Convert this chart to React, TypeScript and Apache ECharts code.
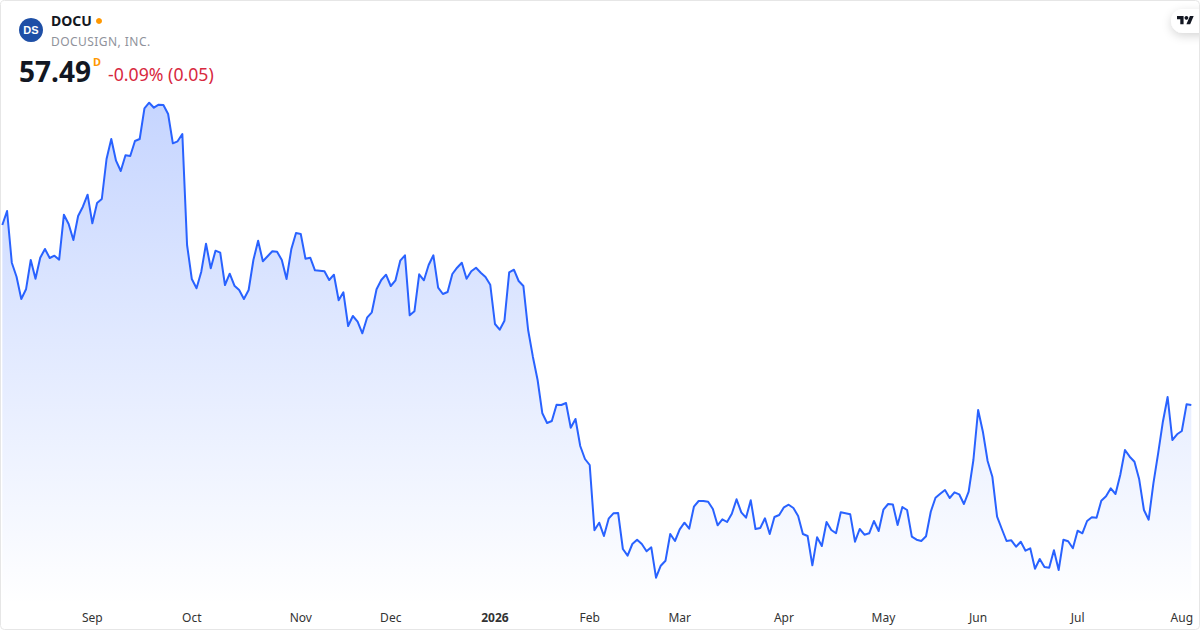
import React, { useEffect, useRef } from "react";
import * as echarts from "echarts";

const prices: number[] = [
  75.5, 76.9, 71.73, 70.33, 68.1, 69.07, 72.0, 70.13, 72.23, 73.1, 72.2, 72.43, 72.03, 76.53, 75.6, 74.0, 76.4, 77.33, 78.53, 75.67,
  77.7, 78.1, 82.1, 84.1, 81.93, 80.9, 82.47, 82.4, 83.9, 84.1, 87.17, 87.73, 87.23, 87.53, 87.5, 86.6, 83.67, 83.87, 84.6, 73.5,
  70.1, 69.17, 70.83, 73.63, 71.17, 72.93, 72.73, 69.5, 70.63, 69.43, 69.0, 68.1, 69.0, 72.0, 73.93, 71.87, 72.37, 72.87, 72.83, 72.0,
  70.1, 73.07, 74.7, 74.6, 72.13, 72.23, 70.97, 70.93, 70.87, 70.0, 70.53, 67.97, 68.77, 65.4, 66.4, 65.83, 64.67, 66.23, 66.77, 69.07,
  70.0, 70.53, 69.4, 69.97, 71.93, 72.47, 66.47, 66.87, 70.57, 69.97, 71.5, 72.47, 69.23, 68.6, 68.8, 70.6, 71.23, 71.73, 70.13, 70.87,
  71.23, 70.73, 70.3, 69.53, 65.6, 65.03, 65.93, 70.77, 71.03, 69.9, 69.4, 65.0, 62.33, 60.0, 56.67, 55.7, 55.9, 57.53, 57.5, 57.7,
  55.23, 56.1, 53.4, 52.1, 51.5, 44.97, 45.73, 44.4, 46.13, 46.67, 46.7, 43.1, 42.43, 43.6, 44.03, 43.6, 42.87, 43.27, 40.23, 41.43,
  41.93, 44.6, 43.9, 45.07, 45.73, 45.13, 47.33, 47.9, 47.9, 47.83, 47.1, 45.47, 46.07, 45.8, 46.63, 48.07, 46.77, 46.23, 47.97, 45.1,
  45.2, 46.17, 44.6, 46.3, 46.5, 47.27, 47.53, 47.2, 46.4, 44.6, 44.4, 41.47, 44.27, 43.4, 45.8, 45.0, 44.67, 46.77, 46.67, 46.57,
  43.83, 45.1, 44.53, 44.67, 45.9, 44.9, 47.03, 47.6, 47.55, 45.5, 47.3, 47.0, 44.33, 44.03, 43.9, 44.37, 46.83, 48.23, 48.63, 49.0,
  48.2, 48.77, 48.57, 47.6, 48.83, 52.0, 57.0, 54.83, 51.9, 50.33, 46.33, 45.1, 43.9, 43.97, 43.33, 43.83, 42.93, 43.17, 41.13, 42.1,
  41.3, 41.23, 42.97, 41.0, 44.03, 43.87, 43.17, 44.93, 44.67, 45.9, 46.27, 46.23, 47.93, 48.37, 49.17, 48.6, 50.5, 53.0, 52.33, 51.83,
  50.07, 47.0, 46.03, 49.67, 52.67, 55.83, 58.3, 54.0, 54.57, 54.9, 57.57, 57.49,
];

const tickIndexes: number[] = [19, 40, 63, 82, 104, 124, 143, 165, 186, 206, 227, 249];
const tickLabels: string[] = ["Sep", "Oct", "Nov", "Dec", "2026", "Feb", "Mar", "Apr", "May", "Jun", "Jul", "Aug"];

const ticker = "DOCU";
const companyName = "DOCUSIGN, INC.";
const logoInitials = "DS";
const lastPrice = "57.49";
const intervalTag = "D";
const changeText = "-0.09% (0.05)";

const FONT = '"Noto Sans", "Open Sans", sans-serif';

echarts.graphic.registerShape(
  "tvLogo",
  echarts.graphic.extendPath("M14 22H7V11H0V4h14v18zM28 22h-8l7.5-18h8L28 22z", {}) as any
);

export default function App() {
  const ref = useRef<HTMLDivElement>(null);
  useEffect(() => {
    const chart = echarts.init(ref.current!, undefined, { renderer: "svg", width: 1200, height: 630 });
    const categories = prices.map((_, i) => {
      const k = tickIndexes.indexOf(i);
      return k >= 0 ? tickLabels[k] : "";
    });
    chart.setOption({
      animation: false,
      backgroundColor: "#ffffff",
      grid: { left: 2.33, right: 8.7, top: 95, bottom: 25 },
      xAxis: {
        type: "category",
        data: categories,
        boundaryGap: false,
        axisLine: { show: false },
        axisTick: { show: false },
        splitLine: { show: false },
        axisLabel: {
          interval: (_i: number, v: string) => v !== "",
          showMinLabel: true,
          showMaxLabel: true,
          hideOverlap: false,
          margin: 6,
          fontFamily: FONT,
          fontSize: 12,
          color: "#333333",
          formatter: (v: string) => (/^\d+$/.test(v) ? `{b|${v}}` : v),
          rich: { b: { fontWeight: "bold", fontFamily: FONT, fontSize: 12, color: "#333333" } },
        },
      },
      yAxis: {
        type: "value",
        min: 37.5,
        max: 88.5,
        show: false,
      },
      series: [
        {
          type: "line",
          data: prices,
          showSymbol: false,
          symbol: "none",
          smooth: false,
          lineStyle: { color: "#2962ff", width: 2, join: "round" },
          areaStyle: {
            origin: "start",
            color: new echarts.graphic.LinearGradient(0, 0, 0, 1, [
              { offset: 0, color: "rgba(41,98,255,0.38)" },
              { offset: 1, color: "rgba(41,98,255,0)" },
            ]),
          },
        },
      ],
      graphic: [
        { type: "circle", shape: { cx: 31, cy: 30, r: 12 }, style: { fill: "#1e4fa6" } },
        { type: "text", x: 31, y: 30, style: { text: logoInitials, fill: "#ffffff", font: `bold 11px "Liberation Sans", sans-serif`, align: "center", verticalAlign: "middle" } },
        { type: "text", x: 51, y: 20, style: { text: ticker, fill: "#131722", font: `bold 14px ${FONT}`, verticalAlign: "middle" } },
        { type: "circle", shape: { cx: 99, cy: 21, r: 3 }, style: { fill: "#ff9800" } },
        { type: "text", x: 51, y: 41, style: { text: companyName, fill: "#8f929b", font: `12px ${FONT}`, verticalAlign: "middle" } },
        { type: "text", x: 19, y: 71, style: { text: lastPrice, fill: "#131722", font: `bold 28px ${FONT}`, verticalAlign: "middle" } },
        { type: "text", x: 93, y: 61, style: { text: intervalTag, fill: "#ff9800", font: `bold 11px ${FONT}`, verticalAlign: "middle" } },
        { type: "text", x: 108, y: 73.5, style: { text: changeText, fill: "#d8293f", font: `17.7px ${FONT}`, verticalAlign: "middle" } },
        {
          type: "rect",
          shape: { x: 1171, y: 9, width: 50, height: 24, r: 12 },
          style: { fill: "#ffffff", shadowBlur: 10, shadowColor: "rgba(0,0,0,0.16)", shadowOffsetY: 3 },
        },
        { type: "tvLogo", x: 1177, y: 14, scaleX: 0.47, scaleY: 0.47, style: { fill: "#131722" } },
        { type: "circle", shape: { cx: 1186.4, cy: 17.8, r: 1.9 }, style: { fill: "#131722" } },
        {
          type: "rect",
          shape: { x: 0.5, y: 0.5, width: 1199, height: 629, r: 4 },
          style: { fill: "none", stroke: "#e6e6e6", lineWidth: 1 },
        },
      ],
    });
    ref.current!.querySelectorAll("text").forEach((t) => {
      if (t.textContent === companyName) t.style.letterSpacing = "0.45px";
    });
    return () => chart.dispose();
  }, []);
  return <div ref={ref} style={{ position: "absolute", left: 0, top: 0, width: 1200, height: 630 }} />;
}
